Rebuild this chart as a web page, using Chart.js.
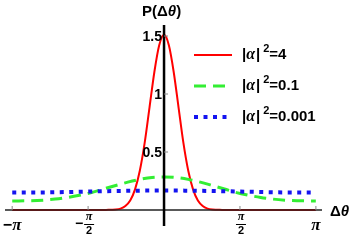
<!DOCTYPE html>
<html>
<head>
<meta charset="utf-8">
<script src="https://cdn.jsdelivr.net/npm/chart.js@4"></script>
<style>
  html, body { margin: 0; padding: 0; background: #fff; }
  #wrap { width: 353px; height: 244px; }
</style>
</head>
<body>
<div id="wrap"><canvas id="phaseChart"></canvas></div>
<script>
// phase distribution P(Δθ)
const thetaRed = [-3.14, -2, -1.5, -1.2, -1.0, -0.9, -0.8, -0.7, -0.6, -0.5, -0.4, -0.3, -0.2, -0.1, 0,
  0.1, 0.2, 0.3, 0.4, 0.5, 0.6, 0.7, 0.8, 0.9, 1.0, 1.2, 1.5, 2, 3.14];
const pRed = [0, 0, 0, 0.001, 0.004, 0.012, 0.034, 0.082, 0.178, 0.34, 0.58, 0.885, 1.19, 1.42, 1.51,
  1.42, 1.19, 0.885, 0.58, 0.34, 0.178, 0.082, 0.034, 0.012, 0.004, 0.001, 0, 0, 0];

const thetaGreen = [-3.14, -2.75, -2.5, -2.25, -2, -1.75, -1.5, -1.25, -1, -0.75, -0.5, -0.25, 0,
  0.25, 0.5, 0.75, 1, 1.25, 1.5, 1.75, 2, 2.25, 2.5, 2.75, 3.14];
const pGreen = [0.078, 0.080, 0.085, 0.094, 0.108, 0.127, 0.15, 0.181, 0.211, 0.240, 0.264, 0.280, 0.285,
  0.280, 0.264, 0.240, 0.211, 0.181, 0.15, 0.127, 0.108, 0.094, 0.085, 0.080, 0.078];

const thetaBlue = [-3.14, -2.36, -1.57, -0.79, 0, 0.79, 1.57, 2.36, 3.14];
const pBlue = [0.150, 0.152, 0.159, 0.165, 0.168, 0.165, 0.159, 0.152, 0.150];

const legendLabels = ['4', '0.1', '0.001'];
const yTicks = [0.5, 1, 1.5];
const xTicks = [
  { v: -Math.PI, sign: '−', num: 'π', den: '' },
  { v: -Math.PI / 2, sign: '−', num: 'π', den: '2' },
  { v: Math.PI / 2, sign: '', num: 'π', den: '2' },
  { v: Math.PI, sign: '', num: 'π', den: '' }
];

const pts = (xs, ys) => xs.map((x, i) => ({ x: x, y: ys[i] }));

const colors = ['#ff0000', '#33ee33', '#1414f0'];
const dashes = [[], [12, 7], [4, 5.5]];
const widths = [2, 3, 4];

const SANS = 'bold 15px "Liberation Sans", Arial, sans-serif';
const SANS_IT = 'bold italic 15px "Liberation Sans", Arial, sans-serif';

// draws the axes through the origin, tick labels and legend (Mathematica look)
const mathAxes = {
  id: 'mathAxes',
  afterDatasetsDraw(chart) {
    const ctx = chart.ctx;
    const xs = chart.scales.x, ys = chart.scales.y;
    const x0 = xs.getPixelForValue(0), y0 = ys.getPixelForValue(0);
    let tx = 0;
    const part = (s, f, y) => { ctx.font = f; ctx.fillText(s, tx, y); tx += ctx.measureText(s).width; };
    ctx.save();
    // axes
    ctx.strokeStyle = '#222';
    ctx.lineWidth = 1.5;
    ctx.beginPath();
    ctx.moveTo(xs.left, y0); ctx.lineTo(xs.right - 3, y0);
    ctx.stroke();
    ctx.strokeStyle = '#000';
    ctx.lineWidth = 2.5;
    ctx.beginPath();
    ctx.moveTo(x0, ys.top); ctx.lineTo(x0, ys.bottom);
    ctx.stroke();

    ctx.fillStyle = '#000';
    ctx.font = 'bold 14px "Liberation Sans", Arial, sans-serif';
    // y ticks
    ctx.strokeStyle = '#888';
    ctx.lineWidth = 1;
    ctx.textAlign = 'right';
    ctx.textBaseline = 'middle';
    yTicks.forEach(t => {
      const py = ys.getPixelForValue(t);
      ctx.beginPath(); ctx.moveTo(x0, py); ctx.lineTo(x0 + 4, py); ctx.stroke();
      ctx.fillText(String(t), x0 - 2, py + 1);
    });
    // x ticks
    xTicks.forEach(t => {
      const px = xs.getPixelForValue(t.v);
      ctx.beginPath(); ctx.moveTo(px, y0 - 4); ctx.lineTo(px, y0); ctx.stroke();
      ctx.textBaseline = 'middle';
      if (t.den) {
        ctx.font = 'bold italic 12px "Liberation Serif", serif';
        ctx.textAlign = 'center';
        ctx.fillText(t.num, px + 1, y0 + 7);
        ctx.fillRect(px - 4, y0 + 14, 10, 1);
        ctx.font = 'bold 11px "Liberation Sans", Arial, sans-serif';
        ctx.fillText(t.den, px + 1, y0 + 21);
        if (t.sign) {
          ctx.font = 'bold 14px "Liberation Sans", Arial, sans-serif';
          ctx.textAlign = 'right';
          ctx.fillText(t.sign, px - 5, y0 + 14);
        }
      } else {
        ctx.textAlign = 'left';
        ctx.font = 'bold italic 17px "Liberation Serif", serif';
        const w = ctx.measureText(t.num).width;
        let sw = 0;
        if (t.sign) {
          ctx.font = 'bold 16px "Liberation Sans", Arial, sans-serif';
          sw = ctx.measureText(t.sign).width;
        }
        tx = px - (sw + w) / 2;
        if (t.sign) part(t.sign, 'bold 16px "Liberation Sans", Arial, sans-serif', y0 + 16);
        part(t.num, 'bold italic 17px "Liberation Serif", serif', y0 + 16);
      }
    });
    // axis labels
    ctx.textAlign = 'left';
    ctx.textBaseline = 'middle';
    tx = 330;
    part('Δ', SANS, y0 + 2);
    part('θ', SANS_IT, y0 + 2);
    tx = 142;
    part('P(Δ', SANS, 12);
    part('θ', SANS_IT, 12);
    part(')', SANS, 12);

    // legend
    legendLabels.forEach((lab, i) => {
      const ly = 55 + i * 31;
      ctx.strokeStyle = colors[i];
      ctx.lineWidth = widths[i];
      ctx.setLineDash(dashes[i]);
      ctx.beginPath(); ctx.moveTo(194, ly); ctx.lineTo(232, ly); ctx.stroke();
      ctx.setLineDash([]);
      tx = 242;
      part('|', SANS, ly);
      part('α', 'bold italic 16px "Liberation Serif", serif', ly);
      tx += 1;
      part('|', SANS, ly);
      tx += 3;
      part('2', 'bold 11px "Liberation Sans", Arial, sans-serif', ly - 6);
      part('=' + lab, SANS, ly);
    });
    ctx.restore();
  }
};

new Chart(document.getElementById('phaseChart'), {
  type: 'scatter',
  data: {
    datasets: [
      { data: pts(thetaBlue, pBlue) },
      { data: pts(thetaGreen, pGreen) },
      { data: pts(thetaRed, pRed) }
    ].map((d, k) => {
      const i = 2 - k;
      return Object.assign(d, {
        showLine: true,
        borderColor: colors[i],
        borderWidth: widths[i],
        borderDash: dashes[i],
        borderCapStyle: 'butt',
        pointRadius: 0,
        cubicInterpolationMode: 'monotone',
        fill: false
      });
    })
  },
  options: {
    responsive: true,
    maintainAspectRatio: false,
    animation: false,
    layout: { padding: { left: 5, right: 28, top: 25, bottom: 18 } },
    plugins: { legend: { display: false }, tooltip: { enabled: false } },
    scales: {
      x: { type: 'linear', display: false, min: -3.29, max: 3.33 },
      y: { type: 'linear', display: false, min: -0.138, max: 1.595 }
    }
  },
  plugins: [mathAxes]
});
</script>
</body>
</html>
